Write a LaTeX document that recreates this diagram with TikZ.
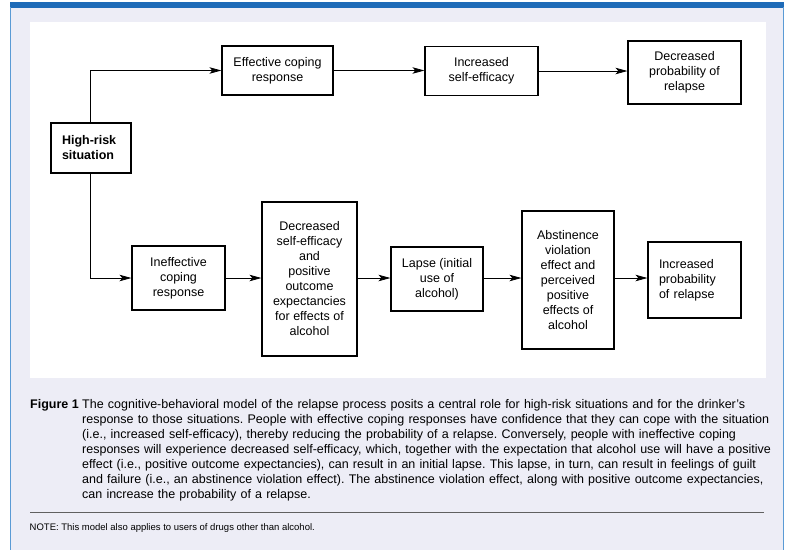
\documentclass[tikz,border=0pt]{standalone}
\usepackage{fontspec}
\setmainfont{Liberation Sans}
\usetikzlibrary{arrows.meta}
\frenchspacing
\definecolor{bglav}{HTML}{EDEDF6}
\definecolor{topblue}{HTML}{1E6BB8}
\definecolor{sideblue}{HTML}{5A9BD5}
\definecolor{rulegray}{HTML}{606060}
\tikzset{
  box/.style={draw=black, line width=1.2pt, rectangle, inner sep=0pt, align=center,
    font=\fontsize{12.5}{15}\selectfont},
  conn/.style={line width=0.8pt, -{Stealth[length=12pt,width=6.5pt,inset=3pt]}},
}
\begin{document}
\begin{tikzpicture}[x=1pt,y=-1pt]
\useasboundingbox (0,0) rectangle (786,550);
\fill[white] (0,0) rectangle (786,550);
\fill[bglav] (10,2) rectangle (784,550);
\fill[topblue] (10,2) rectangle (784,7.5);
\draw[sideblue, line width=1.2pt] (10.6,7) -- (10.6,550);
\draw[sideblue, line width=1.2pt] (783.4,7) -- (783.4,550);
\fill[white] (30,22) rectangle (766,378);

% nodes
\node[box, minimum width=111pt, minimum height=49pt] (eff) at (277.5,70.5) {Effective coping\\response};
\node[box, minimum width=113pt, minimum height=49pt] (inc) at (481.5,71) {Increased\\self-efficacy};
\node[box, minimum width=113pt, minimum height=63pt] (dec) at (684.5,72.5) {Decreased\\probability of\\relapse};
\node[box, minimum width=80pt, minimum height=50pt, text width=58pt, align=left, inner xsep=11pt,
  font=\fontsize{12.5}{15}\selectfont\bfseries] (hrs) at (91,148) {High-risk\\situation};
\node[box, minimum width=93pt, minimum height=64pt] (ine) at (178.5,278) {Ineffective\\coping\\response};
\node[box, minimum width=95pt, minimum height=154pt] (dse) at (309.5,279) {Decreased\\self-efficacy\\and\\positive\\outcome\\expectancies\\for effects of\\alcohol};
\node[box, minimum width=92pt, minimum height=64pt] (lap) at (437,279) {Lapse (initial\\use of\\alcohol)};
\node[box, minimum width=92pt, minimum height=138pt] (abs) at (568,280) {Abstinence\\violation\\effect and\\perceived\\positive\\effects of\\alcohol};
\node[box, minimum width=93pt, minimum height=76pt, text width=71pt, align=left, inner xsep=11pt] (ipr) at (694.5,280) {Increased\\probability\\of relapse};

% connectors
\draw[conn] (hrs.north -| 90,0) |- (eff.west);
\draw[conn] (hrs.south -| 90,0) |- (ine.west);
\draw[conn] (eff.east) -- (eff.east -| inc.west);
\draw[conn] (inc.east) -- (inc.east -| dec.west);
\draw[conn] (ine.east) -- (ine.east -| dse.west);
\draw[conn] (dse.east |- ine.east) -- (ine.east -| lap.west);
\draw[conn] (lap.east |- ine.east) -- (ine.east -| abs.west);
\draw[conn] (abs.east |- ine.east) -- (ine.east -| ipr.west);

% caption
\node[anchor=base west, inner sep=0pt, font=\fontsize{12.5}{15}\selectfont\bfseries] (figlab) at (30,408) {Figure 1};
\node[anchor=base west, inner sep=0pt, text width=700pt, align=left, font=\fontsize{12.5}{15}\selectfont] (captxt) at (82,408)
{The cognitive-behavioral model of the relapse process posits a central role for high-risk situations and for the drinker's\\
response to those situations. People with effective coping responses have confidence that they can cope with the situation\\
(i.e., increased self-efficacy), thereby reducing the probability of a relapse. Conversely, people with ineffective coping\\
responses will experience decreased self-efficacy, which, together with the expectation that alcohol use will have a positive\\
effect (i.e., positive outcome expectancies), can result in an initial lapse. This lapse, in turn, can result in feelings of guilt\\
and failure (i.e., an abstinence violation effect). The abstinence violation effect, along with positive outcome expectancies,\\
can increase the probability of a relapse.};
\draw[rulegray, line width=1pt] (30,512) -- (764,512);
\node[anchor=base west, inner sep=0pt, font=\fontsize{9.5}{11}\selectfont] (note) at (29.5,530.5) {NOTE: This model also applies to users of drugs other than alcohol.};
\end{tikzpicture}
\end{document}
